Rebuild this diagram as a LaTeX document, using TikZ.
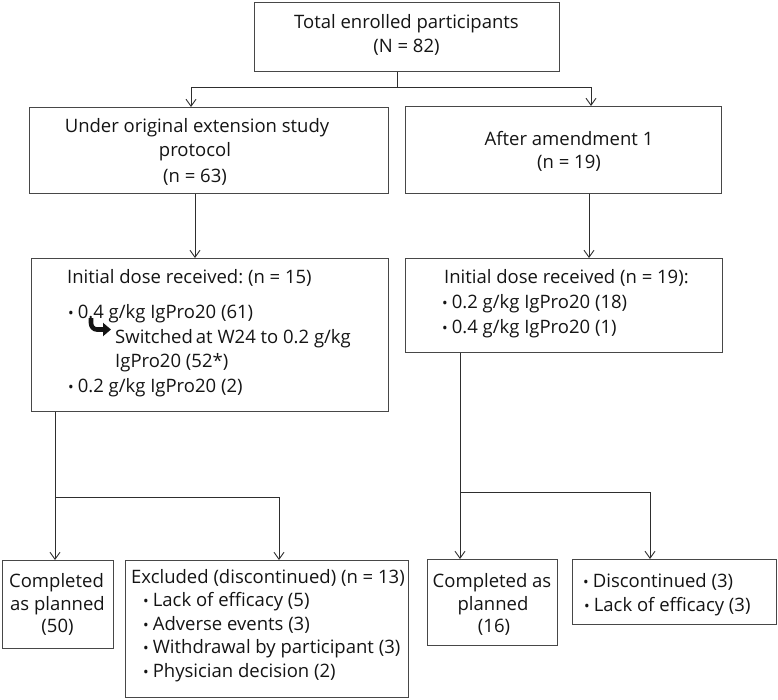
\documentclass[tikz,border=0pt]{standalone}
\usepackage{fontspec}
\setmainfont{Open Sans}
\usetikzlibrary{arrows.meta}
\frenchspacing
\newcommand\bul{{\fontsize{15}{15}\selectfont\textbullet}\hspace{4pt}}
\newcommand\mkbox[5]{\node[box, minimum width={#4-#2}, minimum height={#5-#3}] (#1) at (#2,#3) {};}
\begin{document}
\begin{tikzpicture}[x=1pt,y=-1pt,
  box/.style={draw=black!72, line width=0.8pt, inner sep=0, anchor=north west},
  tx/.style={inner sep=0, font=\fontsize{18.5}{24}\selectfont\frenchspacing, text=black!92},
  ln/.style={draw=black!82, line width=0.9pt},
  arr/.style={ln, -{Straight Barb[length=7pt,width=10pt]}}]
\useasboundingbox (0,0) rectangle (778,699);

% boxes
\mkbox{top}{254}{2}{559}{71}
\mkbox{lb2}{29}{107}{388}{193}
\mkbox{rb2}{405}{106}{721}{193}
\mkbox{lb3}{31}{258}{388}{411}
\mkbox{rb3}{405}{258}{722}{352}
\mkbox{c50}{2}{560}{113}{648}
\mkbox{exc}{125}{560}{408}{697}
\mkbox{c16}{427}{559}{557}{645}
\mkbox{dis}{572}{559}{776}{624}

% texts
\node[tx, anchor=base] (t1) at (406.5,28) {Total enrolled participants};
\node[tx, anchor=base] (t2) at (406.5,52.5) {(N = 82)};

\node[tx, anchor=base] (u1) at (197,132) {Under original extension study};
\node[tx, anchor=base] (u2) at (195,156.5) {protocol};
\node[tx, anchor=base] (u3) at (195,182) {(n = 63)};

\node[tx, anchor=base] (a1) at (569,145.5) {After amendment 1};
\node[tx, anchor=base] (a2) at (569,168) {(n = 19)};

\node[tx, anchor=base west] (l1) at (67,283) {Initial dose received: (n = 15)};
\node[tx, anchor=base west] (l2) at (68,318) {\bul 0.4 g/kg IgPro20 (61)};
\node[tx, anchor=base west] (l3) at (115,343) {Switched\,at W24 to 0.2 g/kg};
\node[tx, anchor=base west] (l4) at (115,367) {IgPro20 (52*)};
\node[tx, anchor=base west] (l5) at (68,392) {\bul 0.2 g/kg IgPro20 (2)};
\draw[line width=4.6pt, black!92, -{Triangle[length=8pt,width=13pt]}]
  (91,318) -- (91,323) to[out=-90,in=180] (97,329.5) -- (111,329.5);

\node[tx, anchor=base west] (r1) at (444,283) {Initial dose received (n = 19):};
\node[tx, anchor=base west] (r2) at (442,308) {\bul 0.2 g/kg IgPro20 (18)};
\node[tx, anchor=base west] (r3) at (442,333) {\bul 0.4 g/kg IgPro20 (1)};

\node[tx, anchor=base] (c1) at (56.5,587) {Completed};
\node[tx, anchor=base] (c2) at (57.5,610) {as planned};
\node[tx, anchor=base] (c3) at (57.5,632.5) {(50)};

\node[tx, anchor=base west] (e1) at (131,583) {Excluded (discontinued) (n = 13)};
\node[tx, anchor=base west] (e2) at (143,606.5) {\bul Lack of efficacy (5)};
\node[tx, anchor=base west] (e3) at (143,630) {\bul Adverse events (3)};
\node[tx, anchor=base west] (e4) at (143,653.5) {\bul Withdrawal by participant (3)};
\node[tx, anchor=base west] (e5) at (143,677) {\bul Physician decision (2)};

\node[tx, anchor=base] (s1) at (492,587) {Completed as};
\node[tx, anchor=base] (s2) at (493,610) {planned};
\node[tx, anchor=base] (s3) at (494,632.5) {(16)};

\node[tx, anchor=base west] (d1) at (583,587) {\bul Discontinued (3)};
\node[tx, anchor=base west] (d2) at (584,611) {\bul Lack of efficacy (3)};

% connector coordinates
\coordinate (j0) at (397.5,87);
\coordinate (xL) at (191,0);
\coordinate (xR) at (591,0);
\coordinate (xl2) at (195,0);
\coordinate (xr2) at (589,0);
\coordinate (jL) at (55,497);
\coordinate (xE) at (279,0);
\coordinate (jR) at (460,492);
\coordinate (xD) at (650,0);

\draw[ln] (j0 |- top.south) -- (j0);
\draw[arr] (j0) -| (xL |- lb2.north);
\draw[arr] (j0) -| (xR |- rb2.north);
\draw[arr] (xl2 |- lb2.south) -- (xl2 |- lb3.north);
\draw[arr] (xr2 |- rb2.south) -- (xr2 |- rb3.north);

\draw[arr] (jL |- lb3.south) -- (jL |- c50.north);
\draw[arr] (jL) -| (xE |- exc.north);
\draw[arr] (jR |- rb3.south) -- (jR |- c16.north);
\draw[arr] (jR) -| (xD |- dis.north);
\end{tikzpicture}
\end{document}
